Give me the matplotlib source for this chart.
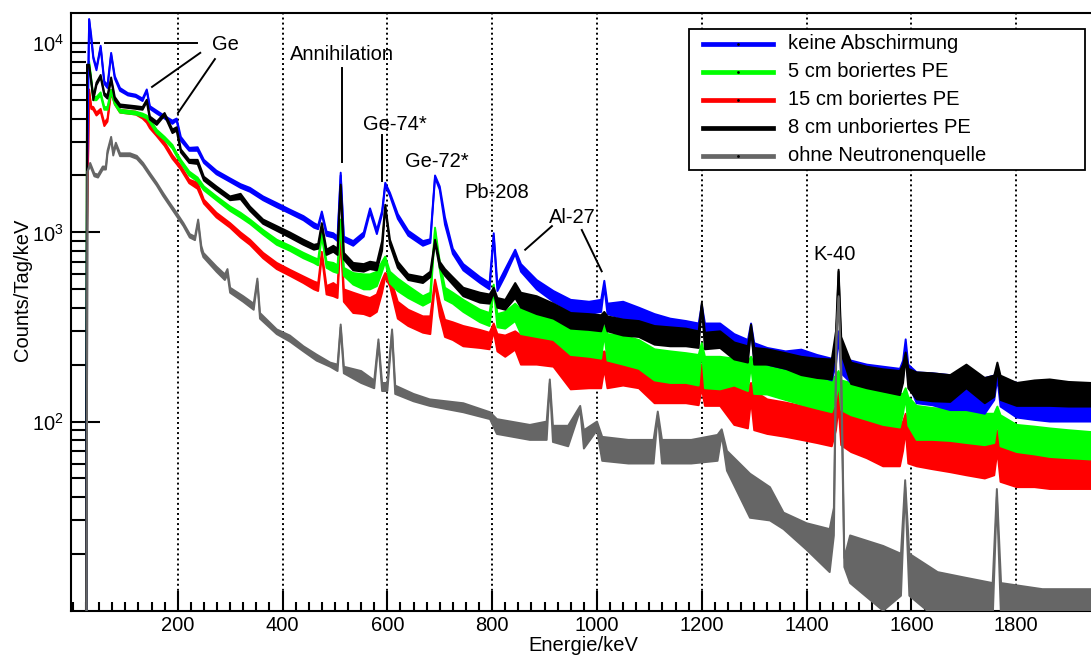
import numpy as np
import matplotlib
matplotlib.use("Agg")
import matplotlib.pyplot as plt
from matplotlib.ticker import MultipleLocator, LogLocator, NullFormatter
from matplotlib.lines import Line2D
from matplotlib.patches import Rectangle

plt.rcParams['font.family'] = ['Liberation Sans', 'DejaVu Sans']
plt.rcParams['mathtext.fontset'] = 'custom'
plt.rcParams['mathtext.rm'] = 'Liberation Sans'
plt.rcParams['mathtext.default'] = 'regular'

# Energieraster (keV) der vier Messungen mit Neutronenquelle
energie = [25, 27, 31, 35, 39, 45, 53, 60, 66, 73,
           80, 90, 105, 120, 133, 141, 147, 160, 175, 190,
           198, 206, 222, 238, 250, 274, 300, 320, 338, 363,
           389, 414, 440, 460, 468, 475, 484, 497, 505, 511,
           517, 535, 555, 567, 580, 590, 596, 605, 620, 640,
           668, 682, 691, 700, 710, 725, 745, 777, 795, 803,
           810, 825, 844, 855, 885, 917, 950, 985, 1008, 1014,
           1020, 1050, 1080, 1110, 1140, 1170, 1194, 1200, 1206, 1235,
           1262, 1288, 1294, 1300, 1325, 1360, 1390, 1420, 1448, 1456,
           1461, 1466, 1485, 1515, 1546, 1578, 1584, 1589, 1594, 1610,
           1640, 1674, 1705, 1740, 1758, 1764, 1770, 1801, 1835, 1864,
           1900, 1943]

# obere / untere Kante des Rauschbandes (Counts/Tag/keV)
blau_max = [1, 2100, 13400, 11000, 8500, 7400, 9700, 6300, 6000, 8900,
            6700, 5800, 5450, 5350, 5100, 5700, 4650, 4400, 4130, 3900,
            4000, 3200, 2800, 2820, 2420, 2120, 1930, 1800, 1720, 1550,
            1430, 1320, 1220, 1120, 1090, 1290, 1010, 990, 950, 2070,
            950, 900, 1000, 1340, 1030, 1300, 1830, 1620, 1250, 1020,
            900, 920, 2000, 1750, 1200, 820, 680, 580, 540, 990,
            530, 640, 810, 680, 560, 490, 440, 430, 440, 555,
            420, 430, 400, 370, 350, 340, 330, 415, 330, 330,
            290, 270, 330, 260, 245, 235, 240, 225, 215, 230,
            300, 220, 210, 200, 195, 190, 210, 272, 200, 182,
            180, 176, 180, 170, 175, 190, 170, 160, 160, 160,
            158, 155]
blau_min = [1, 2100, 13400, 10500, 8300, 7200, 9500, 6100, 5800, 8700,
            6500, 5600, 5300, 5200, 4950, 5600, 4500, 4250, 4000, 3750,
            3900, 3050, 2700, 2700, 2330, 2030, 1850, 1720, 1640, 1480,
            1360, 1260, 1160, 1060, 1040, 1250, 960, 940, 900, 2000,
            900, 850, 950, 1280, 980, 1250, 1780, 1560, 1180, 960,
            850, 880, 1950, 1680, 1100, 770, 630, 540, 500, 950,
            490, 590, 770, 620, 500, 430, 380, 370, 380, 520,
            370, 350, 340, 300, 290, 280, 280, 400, 275, 262,
            235, 225, 300, 215, 200, 190, 185, 175, 165, 200,
            280, 180, 160, 155, 145, 140, 170, 250, 160, 125,
            122, 115, 115, 110, 130, 170, 120, 105, 102, 100,
            100, 100]

gruen_max = [1, 7000, 8000, 6500, 5200, 5200, 5500, 4600, 4600, 5670,
             4900, 4450, 4400, 4350, 4250, 4150, 3950, 3490, 3200, 2900,
             2630, 2420, 2100, 1950, 1750, 1550, 1370, 1270, 1170, 1030,
             915, 850, 780, 735, 720, 1000, 700, 690, 670, 1170,
             650, 610, 600, 600, 620, 700, 745, 620, 570, 520,
             460, 480, 1060, 700, 510, 480, 440, 390, 375, 530,
             370, 380, 420, 391, 380, 360, 307, 300, 300, 320,
             290, 285, 270, 241, 235, 230, 225, 260, 220, 220,
             215, 205, 220, 200, 200, 190, 185, 175, 167, 175,
             185, 165, 160, 152, 144, 140, 140, 150, 135, 121,
             118, 116, 114, 110, 110, 120, 108, 96, 94, 92,
             90, 88]
gruen_min = [1, 7000, 7800, 6300, 5000, 5000, 5300, 4450, 4450, 5500,
             4750, 4300, 4250, 4200, 4100, 4000, 3800, 3350, 3080, 2780,
             2530, 2330, 2000, 1860, 1670, 1480, 1300, 1200, 1110, 975,
             860, 800, 730, 690, 670, 960, 650, 620, 610, 1130,
             590, 530, 500, 500, 520, 620, 700, 540, 490, 450,
             410, 430, 1020, 640, 441, 420, 380, 335, 320, 500,
             315, 310, 340, 290, 280, 270, 225, 220, 215, 290,
             210, 200, 190, 165, 160, 160, 155, 240, 150, 148,
             155, 145, 200, 140, 139, 130, 123, 117, 112, 130,
             160, 115, 108, 102, 96, 93, 110, 135, 95, 80,
             80, 79, 77, 75, 77, 100, 74, 69, 67, 65,
             64, 63]

rot_max = [1, 1150, 5700, 4640, 4600, 4300, 4500, 3800, 4000, 5670,
           4900, 4450, 4400, 4350, 4150, 3940, 3700, 3370, 3000, 2560,
           2400, 2250, 1900, 1830, 1490, 1270, 1120, 1000, 915, 780,
           690, 635, 585, 550, 540, 790, 520, 540, 520, 1010,
           500, 480, 460, 450, 470, 560, 610, 585, 430, 390,
           360, 360, 563, 430, 345, 335, 320, 305, 295, 330,
           290, 285, 300, 285, 280, 270, 232, 232, 230, 235,
           225, 220, 215, 205, 205, 200, 195, 200, 190, 189,
           155, 150, 160, 145, 131, 126, 121, 116, 112, 120,
           145, 115, 112, 108, 103, 98, 100, 110, 95, 91,
           90, 88, 84, 80, 80, 90, 77, 74, 73, 72,
           72, 71]
rot_min = [1, 1000, 5500, 4500, 4450, 4150, 4350, 3650, 3850, 5500,
           4750, 4300, 4250, 4200, 4000, 3800, 3550, 3230, 2870, 2450,
           2300, 2150, 1820, 1700, 1420, 1200, 1060, 940, 860, 730,
           640, 590, 540, 500, 490, 750, 470, 460, 450, 980,
           430, 375, 370, 360, 380, 480, 580, 520, 350, 320,
           295, 290, 540, 360, 280, 270, 250, 245, 241, 300,
           235, 220, 240, 200, 200, 195, 148, 150, 150, 190,
           150, 155, 150, 125, 125, 125, 122, 150, 121, 121,
           96, 92, 130, 90, 86, 83, 80, 77, 74, 90,
           120, 75, 69, 64, 58, 58, 70, 90, 60, 58,
           56, 54, 52, 50, 52, 70, 48, 45, 45, 44,
           44, 44]

schwarz_max = [1, 7700, 7700, 6400, 5200, 6200, 6800, 5450, 5300, 6600,
               5200, 4750, 4700, 4650, 4600, 5030, 4100, 3850, 4280, 3500,
               3600, 2750, 2420, 2420, 1970, 1750, 1550, 1600, 1370, 1170,
               1080, 1000, 915, 860, 870, 1120, 810, 850, 820, 1790,
               780, 690, 680, 700, 690, 900, 1400, 915, 700, 600,
               580, 620, 915, 700, 640, 580, 510, 480, 470, 510,
               450, 440, 540, 480, 460, 420, 375, 370, 365, 380,
               360, 346, 340, 320, 315, 310, 300, 425, 295, 300,
               262, 250, 326, 245, 241, 230, 220, 215, 213, 300,
               635, 280, 205, 195, 189, 185, 200, 232, 190, 182,
               180, 176, 200, 170, 175, 205, 175, 160, 165, 167,
               162, 160]
schwarz_min = [1, 7700, 7500, 6200, 5000, 6000, 6600, 5300, 5100, 6400,
               5000, 4600, 4550, 4500, 4450, 4900, 3950, 3700, 4150, 3350,
               3450, 2650, 2330, 2300, 1880, 1670, 1480, 1500, 1300, 1110,
               1020, 940, 860, 810, 820, 1080, 760, 790, 760, 1750,
               720, 630, 620, 640, 630, 800, 1350, 860, 650, 560,
               540, 580, 880, 650, 590, 530, 460, 425, 420, 480,
               400, 390, 450, 400, 370, 350, 310, 305, 300, 340,
               300, 285, 280, 255, 250, 250, 245, 410, 241, 245,
               213, 205, 310, 200, 200, 190, 176, 170, 167, 250,
               620, 230, 158, 150, 144, 138, 160, 220, 150, 131,
               128, 127, 150, 125, 135, 195, 130, 121, 121, 121,
               120, 120]

# Untergrund ohne Neutronenquelle, eigenes Raster
energie_ohne = [25, 28, 33, 41, 48, 57, 63, 66, 73, 77,
                82, 90, 109, 122, 134, 147, 160, 172, 185, 198,
                211, 223, 233, 239, 245, 249, 274, 290, 295, 300,
                325, 345, 352, 357, 389, 414, 440, 465, 491, 505,
                511, 517, 550, 575, 583, 590, 600, 609, 615, 650,
                681, 745, 796, 809, 872, 904, 910, 916, 945, 968,
                975, 1000, 1010, 1060, 1108, 1116, 1124, 1180, 1230, 1238,
                1248, 1292, 1330, 1356, 1400, 1444, 1452, 1457, 1461, 1466,
                1472, 1483, 1546, 1580, 1588, 1596, 1650, 1700, 1755, 1763,
                1771, 1850, 1943]
grau_max = [1, 2100, 2330, 2050, 2020, 2230, 2230, 2700, 3200, 2650,
            2980, 2620, 2620, 2540, 2330, 2060, 1830, 1620, 1430, 1270,
            1120, 980, 950, 1170, 850, 780, 660, 600, 640, 510,
            460, 420, 570, 375, 307, 285, 250, 226, 205, 200,
            326, 195, 185, 165, 272, 160, 160, 307, 155, 140,
            131, 125, 112, 103, 96, 100, 167, 95, 95, 121,
            90, 100, 83, 80, 80, 113, 80, 80, 85, 91,
            70, 53, 45, 33, 29, 27, 35, 300, 460, 200,
            19, 25, 22, 20, 49, 20, 16, 15, 14, 44,
            14, 13, 13]
grau_min = [1, 2100, 2250, 1980, 1950, 2150, 2150, 2600, 3100, 2550,
            2880, 2530, 2530, 2450, 2250, 1990, 1770, 1560, 1380, 1220,
            1080, 940, 910, 1130, 800, 740, 620, 560, 600, 480,
            430, 390, 550, 350, 290, 265, 235, 210, 195, 185,
            315, 180, 160, 150, 260, 145, 145, 295, 140, 128,
            121, 112, 103, 86, 80, 80, 160, 78, 74, 115,
            72, 90, 62, 60, 60, 108, 60, 60, 62, 85,
            55, 31, 30, 27, 21, 16, 25, 280, 450, 150,
            17, 14, 10, 12, 45, 12, 9, 9, 9, 40,
            9, 8, 8]

namen = ['keine Abschirmung', '5 cm boriertes PE', '15 cm boriertes PE',
         '8 cm unboriertes PE', 'ohne Neutronenquelle']
farben = ['#0000ff', '#00ff00', '#ff0000', '#000000', '#666666']

W, H = 1091, 655
fig = plt.figure(figsize=(W / 100, H / 100), dpi=100)
ax = fig.add_axes([71 / W, 44.3 / H, 1020 / W, 598 / H])


def band(e, hoch, tief, farbe, z):
    e = np.asarray(e, float)
    ax.fill_between(e, tief, hoch, color=farbe, lw=0, zorder=z)
    ax.plot(e, hoch, color=farbe, lw=1.4, zorder=z)
    ax.plot(e, tief, color=farbe, lw=1.4, zorder=z)


band(energie, rot_max, rot_min, farben[2], 2)
band(energie, gruen_max, gruen_min, farben[1], 3)
band(energie, blau_max, blau_min, farben[0], 4)
band(energie, schwarz_max, schwarz_min, farben[3], 5)
band(energie_ohne, grau_max, grau_min, farben[4], 6)

ax.set_yscale('log')
ax.set_xlim(-3.6, 1942.6)
ax.set_ylim(10, 14510)

ax.set_xticks(range(200, 1801, 200))
ax.xaxis.set_minor_locator(MultipleLocator(25))
ax.set_yticks([100, 1000, 10000])
ax.set_yticklabels(['$10^{2}$', '$10^{3}$', '$10^{4}$'])
ax.yaxis.set_minor_locator(LogLocator(base=10, subs=np.arange(2, 10)))
ax.yaxis.set_minor_formatter(NullFormatter())

ax.tick_params(axis='both', which='both', direction='in', width=1.5,
               labelsize=14.5, top=False, right=False)
ax.tick_params(axis='y', which='major', length=21, pad=5)
ax.tick_params(axis='y', which='minor', length=11)
ax.tick_params(axis='x', which='major', length=14.5, pad=3.5)
ax.tick_params(axis='x', which='minor', length=6.5)

ax.grid(axis='x', which='major', color='k', lw=1.4, ls=(0, (1, 1.6)))
ax.set_axisbelow(True)

for s in ['left', 'bottom', 'top']:
    ax.spines[s].set_linewidth(1.5)
ax.spines['right'].set_visible(False)

ax.set_xlabel('Energie/keV', fontsize=14.5)
ax.xaxis.set_label_coords(0.502, -0.059)
ax.xaxis.label.set_va('center')
ax.set_ylabel('Counts/Tag/keV', fontsize=14.5)
ax.yaxis.set_label_coords(-0.048, 0.536)
ax.yaxis.label.set_va('center')

# Beschriftung der Linien
fs = 14.5
ax.text(292, 9900, 'Ge', fontsize=fs, ha='center', va='center')
ax.plot([61, 237], [10000, 10000], color='k', lw=1.4, zorder=7)
ax.plot([243, 151], [8900, 5880], color='k', lw=1.4, zorder=7)
ax.plot([271, 200.5], [8250, 4280], color='k', lw=1.4, zorder=7)

ax.text(513, 8680, 'Annihilation', fontsize=fs, ha='center', va='center')
ax.plot([513, 513], [7400, 2360], color='k', lw=1.4, zorder=7)

ax.text(615, 3710, 'Ge-74*', fontsize=fs, ha='center', va='center')
ax.plot([589, 589], [3290, 1860], color='k', lw=1.4, zorder=7)

ax.text(695, 2360, 'Ge-72*', fontsize=fs, ha='center', va='center')
ax.text(809, 1620, 'Pb-208', fontsize=fs, ha='center', va='center')

ax.text(952, 1200, 'Al-27', fontsize=fs, ha='center', va='center')
ax.plot([914, 863], [1080, 810], color='k', lw=1.4, zorder=7)
ax.plot([971, 1009], [1030, 623], color='k', lw=1.4, zorder=7)

ax.text(1454, 762, 'K-40', fontsize=fs, ha='center', va='center')

# Legende
fig.patches.append(Rectangle((689 / W, 1 - 170 / H), 396 / W, 141 / H,
                             transform=fig.transFigure, facecolor='white',
                             edgecolor='k', lw=1.3, zorder=10))
for i, (name, farbe) in enumerate(zip(namen, farben)):
    y = 1 - (43.5 + 28 * i) / H
    fig.lines.append(Line2D([703 / W, 773 / W], [y, y], transform=fig.transFigure,
                            color=farbe, lw=3.4, zorder=11))
    fig.lines.append(Line2D([738 / W], [y], transform=fig.transFigure, marker='.',
                            ms=2, color='k', zorder=12))
    fig.text(788 / W, y, name, fontsize=fs, va='center', ha='left', zorder=12)

fig.savefig('out.png', dpi=100)
